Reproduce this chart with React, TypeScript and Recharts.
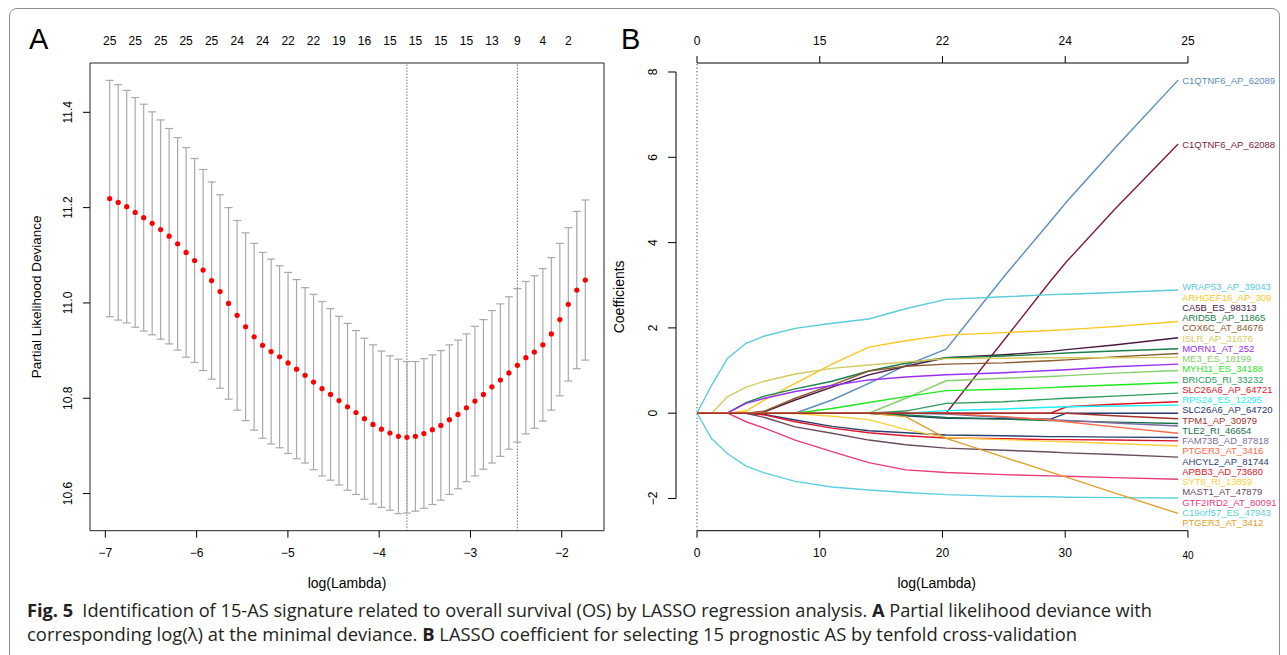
import React from 'react'
import { ComposedChart, Scatter, ErrorBar, Line, XAxis, YAxis, ReferenceLine, ReferenceArea } from 'recharts'

const FONT = '"Liberation Sans", Arial, Helvetica, sans-serif'

// ---------- panel A: cross-validation curve ----------
const logLambda = [
  -6.952, -6.859, -6.766, -6.673, -6.58, -6.487, -6.394, -6.301, -6.208, -6.115,
  -6.022, -5.929, -5.836, -5.743, -5.65, -5.556, -5.463, -5.37, -5.277, -5.184,
  -5.091, -4.998, -4.905, -4.812, -4.719, -4.626, -4.533, -4.44, -4.347, -4.254,
  -4.161, -4.068, -3.975, -3.882, -3.789, -3.696, -3.603, -3.51, -3.417, -3.324,
  -3.23, -3.137, -3.044, -2.951, -2.858, -2.765, -2.672, -2.579, -2.486, -2.393,
  -2.3, -2.207, -2.114, -2.021, -1.928, -1.835, -1.742,
]
const cvDeviance = [
  11.219, 11.211, 11.202, 11.19, 11.179, 11.167, 11.154, 11.14, 11.124, 11.106,
  11.089, 11.069, 11.047, 11.024, 10.999, 10.974, 10.95, 10.929, 10.911, 10.898,
  10.887, 10.874, 10.861, 10.848, 10.834, 10.82, 10.808, 10.795, 10.782, 10.77,
  10.757, 10.745, 10.735, 10.727, 10.72, 10.718, 10.72, 10.726, 10.734, 10.743,
  10.755, 10.766, 10.78, 10.794, 10.808, 10.824, 10.838, 10.853, 10.869, 10.885,
  10.897, 10.912, 10.935, 10.965, 10.997, 11.027, 11.048,
]
const cvSd = [
  0.248, 0.247, 0.244, 0.241, 0.238, 0.234, 0.23, 0.226, 0.223, 0.22,
  0.214, 0.211, 0.207, 0.203, 0.201, 0.199, 0.197, 0.196, 0.195, 0.194,
  0.191, 0.19, 0.188, 0.184, 0.184, 0.183, 0.18, 0.177, 0.175, 0.172,
  0.169, 0.167, 0.164, 0.162, 0.162, 0.159, 0.157, 0.157, 0.157, 0.157,
  0.157, 0.156, 0.155, 0.157, 0.157, 0.16, 0.16, 0.16, 0.161, 0.16,
  0.16, 0.16, 0.16, 0.16, 0.161, 0.165, 0.168,
]
const nonzeroCounts = [25, 25, 25, 25, 25, 24, 24, 22, 22, 19, 16, 15, 15, 15, 15, 13, 9, 4, 2]
const xTicksA = [-7, -6, -5, -4, -3, -2]
const yTicksA = [10.6, 10.8, 11.0, 11.2, 11.4]
const minIndex = 35
const oneSeIndex = 48

// ---------- panel B: coefficient paths ----------
const l1Norm = [0, 1.2, 2.5, 4, 5.5, 8, 11, 14, 17, 20.3, 25, 28.8, 30.1, 34, 39.2]
const dfTop = [0, 15, 22, 24, 25]
const xTicksB = [0, 10, 20, 30, 40]
const yTicksB = [-2, 0, 2, 4, 6, 8]

const c1qtnf6_62089 = [0, 0, 0, 0, 0, 0, 0.31, 0.7, 1.12, 1.5, 3.2, 4.5, 4.95, 6.2, 7.81]
const c1qtnf6_62088 = [0, 0, 0, 0, 0, 0, 0, 0, 0, 0, 1.71, 3.1, 3.55, 4.77, 6.31]
const wrap53 = [0, 0.66, 1.29, 1.64, 1.81, 1.99, 2.11, 2.21, 2.45, 2.67, 2.73, 2.78, 2.79, 2.83, 2.89]
const arhgef16 = [0, 0, 0, 0.05, 0.31, 0.7, 1.15, 1.55, 1.7, 1.83, 1.89, 1.94, 1.96, 2.03, 2.15]
const ca5b = [0, 0, 0, 0, 0.03, 0.31, 0.61, 0.9, 1.1, 1.3, 1.37, 1.45, 1.49, 1.6, 1.77]
const arid5b = [0, 0, 0.01, 0.25, 0.4, 0.57, 0.75, 0.99, 1.17, 1.3, 1.34, 1.39, 1.41, 1.46, 1.51]
const cox6c = [0, 0, 0, 0, 0.05, 0.35, 0.66, 0.99, 1.1, 1.15, 1.18, 1.23, 1.25, 1.32, 1.4]
const islr = [0, 0, 0.39, 0.61, 0.75, 0.92, 1.05, 1.13, 1.2, 1.28, 1.29, 1.3, 1.3, 1.3, 1.31]
const morn1 = [0, 0, 0.01, 0.23, 0.35, 0.51, 0.65, 0.78, 0.85, 0.9, 0.95, 1.0, 1.02, 1.09, 1.15]
const me3 = [0, 0, 0, 0, 0, 0, 0, 0, 0.35, 0.76, 0.82, 0.86, 0.88, 0.94, 1.0]
const myh11 = [0, 0, 0, 0, 0, 0, 0.11, 0.25, 0.39, 0.53, 0.56, 0.6, 0.62, 0.66, 0.72]
const bricd5 = [0, 0, 0, 0, 0, 0, 0, 0, 0.05, 0.23, 0.27, 0.33, 0.35, 0.4, 0.47]
const slc26a6_64721 = [0, 0, 0, 0, 0, 0, 0, 0, 0, 0, 0, 0, 0.15, 0.21, 0.27]
const rps24 = [0, 0, 0, 0, 0, 0, 0, 0, 0, 0.06, 0.1, 0.14, 0.15, 0.17, 0.19]
const slc26a6_64720 = [0, 0, 0, 0, 0, 0, 0, 0, -0.06, -0.12, -0.13, -0.14, 0, 0, 0]
const tpm1 = [0, 0, 0, 0, 0, 0, 0, 0, 0, 0, 0, 0, 0, -0.06, -0.13]
const tle2 = [0, 0, 0, 0, 0, 0, 0, 0, -0.04, -0.1, -0.14, -0.17, -0.18, -0.21, -0.24]
const fam73b = [0, 0, 0, 0, 0, 0, 0, 0, 0, -0.02, -0.1, -0.15, -0.17, -0.23, -0.3]
const ptger3_3416 = [0, 0, 0, 0, 0, 0, 0, 0, 0, 0, -0.08, -0.16, -0.2, -0.32, -0.47]
const ahcyl2 = [0, 0, 0, 0, -0.03, -0.16, -0.31, -0.41, -0.46, -0.51, -0.53, -0.55, -0.55, -0.56, -0.57]
const apbb3 = [0, 0, 0, 0, -0.04, -0.2, -0.35, -0.46, -0.53, -0.58, -0.6, -0.62, -0.62, -0.63, -0.65]
const syt8 = [0, 0, 0, 0, 0, -0.01, -0.07, -0.15, -0.38, -0.57, -0.62, -0.66, -0.67, -0.71, -0.77]
const mast1 = [0, 0, 0, 0, -0.1, -0.32, -0.47, -0.63, -0.74, -0.82, -0.87, -0.91, -0.93, -0.97, -1.03]
const gtf2ird2 = [0, 0, 0, -0.2, -0.35, -0.63, -0.9, -1.16, -1.33, -1.39, -1.44, -1.47, -1.48, -1.51, -1.55]
const c19orf57 = [0, -0.6, -0.95, -1.24, -1.4, -1.6, -1.73, -1.8, -1.86, -1.91, -1.95, -1.96, -1.97, -1.98, -1.99]
const ptger3_3412 = [0, 0, 0, 0, 0, 0, 0, 0, -0.08, -0.59, -1.03, -1.38, -1.5, -1.87, -2.35]

const seriesNames = [
  'C1QTNF6_AP_62089', 'C1QTNF6_AP_62088', 'WRAP53_AP_39043', 'ARHGEF16_AP_309', 'CA5B_ES_98313',
  'ARID5B_AP_11865', 'COX6C_AT_84676', 'ISLR_AP_31676', 'MORN1_AT_252', 'ME3_ES_18199',
  'MYH11_ES_34188', 'BRICD5_RI_33232', 'SLC26A6_AP_64721', 'RPS24_ES_12295', 'SLC26A6_AP_64720',
  'TPM1_AP_30979', 'TLE2_RI_46654', 'FAM73B_AD_87818', 'PTGER3_AT_3416', 'AHCYL2_AP_81744',
  'APBB3_AD_73680', 'SYT8_RI_13859', 'MAST1_AT_47879', 'GTF2IRD2_AT_80091', 'C19orf57_ES_47943',
  'PTGER3_AT_3412',
]
const seriesValues = [
  c1qtnf6_62089, c1qtnf6_62088, wrap53, arhgef16, ca5b,
  arid5b, cox6c, islr, morn1, me3,
  myh11, bricd5, slc26a6_64721, rps24, slc26a6_64720,
  tpm1, tle2, fam73b, ptger3_3416, ahcyl2,
  apbb3, syt8, mast1, gtf2ird2, c19orf57,
  ptger3_3412,
]
const seriesColors = [
  '#5b8dbe', '#7b1d3c', '#5ccbda', '#ffc61e', '#4a1942',
  '#1b8049', '#8c5b2e', '#d6ca5e', '#9b30f5', '#86cf6b',
  '#1fe81f', '#2e9b5c', '#e3121c', '#1ef0fa', '#26386e',
  '#a3302a', '#17744b', '#7d6ca0', '#ff6a4a', '#2c4275',
  '#e0142a', '#ffd040', '#6a4c62', '#e93c7e', '#5cd0e0',
  '#dfa22e',
]

// ---------- layout ----------
const xDomA: [number, number] = [-7.168, -1.537]
const yDomA: [number, number] = [10.522, 11.5035]
const xDomB: [number, number] = [-1.711, 40.77]
const yDomB: [number, number] = [-2.755, 8.211]
const PLOT_H = 467.7
const LABEL_GAP_PX = 10.25

const rowsA = logLambda.map((x, i) => ({ logLambda: x, dev: cvDeviance[i], sd: cvSd[i] }))
const topTicksA = logLambda.filter((_, i) => i % 3 === 0)

const rowsB = l1Norm.map((l1, i) => {
  const r: Record<string, number> = { l1 }
  seriesNames.forEach((n, k) => { r[n] = seriesValues[k][i] })
  return r
})

// push end labels apart (least-squares clusters), values in data units
function spreadLabels(targets: number[], gap: number): number[] {
  const order = targets.map((_, i) => i).sort((a, b) => targets[b] - targets[a])
  const clusters: { idx: number[]; top: number }[] = []
  for (const i of order) {
    clusters.push({ idx: [i], top: targets[i] })
    while (clusters.length > 1) {
      const b = clusters[clusters.length - 1]
      const a = clusters[clusters.length - 2]
      const aBottom = a.top - (a.idx.length - 1) * gap
      if (aBottom - b.top >= gap) break
      const idx = a.idx.concat(b.idx)
      const top = idx.reduce((s, j, k) => s + targets[j] + k * gap, 0) / idx.length
      clusters.splice(-2, 2, { idx, top })
    }
  }
  const out: number[] = new Array(targets.length)
  clusters.forEach(c => c.idx.forEach((j, k) => { out[j] = c.top - k * gap }))
  return out
}

const endValues = seriesValues.map(v => v[v.length - 1])
const labelPos = spreadLabels(endValues, LABEL_GAP_PX / (PLOT_H / (yDomB[1] - yDomB[0])))
const labelRows = seriesNames.map((name, k) => ({
  l1: l1Norm[l1Norm.length - 1], lab: labelPos[k], name, color: seriesColors[k],
}))
const drawOrder = seriesNames.map((_, k) => k).filter(k => seriesNames[k] !== 'TPM1_AP_30979')
  .concat(seriesNames.indexOf('TPM1_AP_30979'))

const txt = { fontFamily: FONT, fill: '#000' }
const minus = (v: number) => String(v).replace('-', '\u2212')
const fmtB = (v: number) => String(v)

const xTick = (dy: number, fmt: (v: number, i: number) => string) => (p: any) => {
  const v = p.payload.value
  const small = fmt === fmtB && v === 40
  return (
    <text x={p.x} y={p.y + dy + (small ? 2 : 0)} textAnchor="middle" dominantBaseline="central"
      style={{ ...txt, fontSize: small ? 10 : 12 }}>{fmt(v, p.index)}</text>
  )
}
const yTick = (dx: number, fmt: (v: number) => string) => (p: any) => {
  const cx = p.x - dx
  return (
    <text x={cx} y={p.y} transform={`rotate(-90 ${cx} ${p.y})`} textAnchor="middle"
      dominantBaseline="central" style={{ ...txt, fontSize: 12 }}>{fmt(p.payload.value)}</text>
  )
}

const bottomTitle = (text: string, dy: number) => (p: any) => {
  const vb = p.viewBox
  return (
    <text x={vb.x + vb.width / 2} y={vb.y + dy} textAnchor="middle" dominantBaseline="central"
      style={{ ...txt, fontSize: 14 }}>{text}</text>
  )
}
const leftTitle = (text: string, dx: number, size: number) => (p: any) => {
  const vb = p.viewBox
  const cx = vb.x + dx
  const cy = vb.y + vb.height / 2
  return (
    <text x={cx} y={cy} transform={`rotate(-90 ${cx} ${cy})`} textAnchor="middle" dominantBaseline="central"
      style={{ ...txt, fontSize: size }}>{text}</text>
  )
}

const redDot = (p: any) => <circle cx={p.cx} cy={p.cy} r={2.6} fill="#ff0000" />
const endLabel = (p: any) => (
  <text x={p.cx + 4} y={p.cy} dominantBaseline="central" fill={p.payload.color}
    style={{ fontFamily: FONT, fontSize: 9.5 }}>{p.payload.name}</text>
)

function PanelA() {
  return (
    <ComposedChart width={610} height={590} data={rowsA} margin={{ top: 25, right: 14, bottom: 37.3, left: 32 }}>
      <XAxis xAxisId="b" type="number" dataKey="logLambda" domain={xDomA} allowDataOverflow ticks={xTicksA}
        interval={0} axisLine={false} tickLine={{ stroke: '#000' }} tickSize={7} tickMargin={3} height={30}
        tick={xTick(12.3, v => minus(v))} label={bottomTitle('log(Lambda)', 52.3)} />
      <XAxis xAxisId="t" orientation="top" type="number" dataKey="logLambda" domain={xDomA} allowDataOverflow
        ticks={topTicksA} interval={0} axisLine={false} tickLine={false} tickSize={0} tickMargin={0} height={30}
        tick={xTick(-22, (_, i) => String(nonzeroCounts[i]))} />
      <YAxis type="number" domain={yDomA} allowDataOverflow ticks={yTicksA} interval={0} axisLine={false}
        tickLine={{ stroke: '#000' }} tickSize={7} tickMargin={2} width={50}
        tick={yTick(12.5, v => v.toFixed(1))} label={leftTitle('Partial Likelihood Deviance', -3, 13.5)} />
      <ReferenceArea xAxisId="b" x1={xDomA[0]} x2={xDomA[1]} y1={yDomA[0]} y2={yDomA[1]} fill="none"
        fillOpacity={0} stroke="#222" strokeWidth={1} ifOverflow="visible" />
      <ReferenceLine xAxisId="b" x={logLambda[minIndex]} stroke="#333" strokeDasharray="1 2" />
      <ReferenceLine xAxisId="b" x={logLambda[oneSeIndex]} stroke="#333" strokeDasharray="1 2" />
      <Scatter xAxisId="b" dataKey="dev" isAnimationActive={false} shape={redDot}>
        <ErrorBar dataKey="sd" direction="y" width={4} stroke="#a9a9a9" strokeWidth={1.2} />
      </Scatter>
    </ComposedChart>
  )
}

function PanelB() {
  return (
    <ComposedChart width={679} height={590} data={rowsB} margin={{ top: 25, right: 81.6, bottom: 37.3, left: 36 }}>
      <XAxis xAxisId="b" type="number" dataKey="l1" domain={xDomB} ticks={xTicksB}
        interval={0} axisLine={false} tickLine={{ stroke: '#000' }} tickSize={7} tickMargin={3} height={30}
        tick={xTick(12.3, fmtB)} label={bottomTitle('log(Lambda)', 52.3)} />
      <XAxis xAxisId="t" orientation="top" type="number" dataKey="l1" domain={xDomB}
        ticks={xTicksB} interval={0} axisLine={false} tickLine={{ stroke: '#000' }} tickSize={7} tickMargin={2}
        height={30} tick={xTick(-13, (_, i) => String(dfTop[i]))} />
      <YAxis type="number" domain={yDomB} ticks={yTicksB} interval={0} axisLine={false}
        tickLine={{ stroke: '#000' }} tickSize={8} tickMargin={2} width={40}
        tick={yTick(13, minus)} label={leftTitle('Coefficients', -17, 14)} />
      <ReferenceLine xAxisId="b" segment={[{ x: xTicksB[0], y: yDomB[0] }, { x: xTicksB[4], y: yDomB[0] }]}
        stroke="#000" ifOverflow="visible" />
      <ReferenceLine xAxisId="b" segment={[{ x: xTicksB[0], y: yDomB[1] }, { x: xTicksB[4], y: yDomB[1] }]}
        stroke="#000" ifOverflow="visible" />
      <ReferenceLine xAxisId="b" segment={[{ x: xDomB[0], y: yTicksB[0] }, { x: xDomB[0], y: yTicksB[5] }]}
        stroke="#000" ifOverflow="visible" />
      <ReferenceLine xAxisId="b" x={0} stroke="#222" strokeDasharray="1 2.5" />
      {drawOrder.map(k => (
        <Line key={seriesNames[k]} xAxisId="b" dataKey={seriesNames[k]} type="linear" stroke={seriesColors[k]}
          strokeWidth={1.4} dot={false} activeDot={false} isAnimationActive={false} />
      ))}
      <Scatter xAxisId="b" data={labelRows} dataKey="lab" isAnimationActive={false} shape={endLabel} />
    </ComposedChart>
  )
}

export default function App() {
  return (
    <div style={{ position: 'fixed', left: 0, top: 0, width: 1287, height: 655, overflow: 'hidden', background: '#fff' }}>
      <div style={{ position: 'absolute', left: 9, top: 8, width: 1271, height: 700, border: '1px solid #8f8f8f',
        borderRadius: 8, boxSizing: 'border-box' }} />
      <div style={{ position: 'absolute', left: 8, top: 8 }}><PanelA /></div>
      <div style={{ position: 'absolute', left: 600, top: 8 }}><PanelB /></div>
      <svg width={1287} height={655} style={{ position: 'absolute', left: 0, top: 0, pointerEvents: 'none' }}>
        <text x={29} y={49} style={{ fontFamily: FONT, fontSize: 29 }}>A</text>
        <text x={621} y={49} style={{ fontFamily: FONT, fontSize: 29 }}>B</text>
        <text x={27} y={617} textLength={1125} lengthAdjust="spacingAndGlyphs" fill="#231f20"
          style={{ fontFamily: '"Open Sans", "Noto Sans", sans-serif', fontSize: 18 }}>
          <tspan fontWeight={700}>Fig. 5</tspan>
          {'\u2002Identification of 15-AS signature related to overall survival (OS) by LASSO regression analysis. '}
          <tspan fontWeight={700}>A</tspan>
          {' Partial likelihood deviance with'}
        </text>
        <text x={27} y={641} textLength={1050} lengthAdjust="spacingAndGlyphs" fill="#231f20"
          style={{ fontFamily: '"Open Sans", "Noto Sans", sans-serif', fontSize: 18 }}>
          {'corresponding log(\u03bb) at the minimal deviance. '}
          <tspan fontWeight={700}>B</tspan>
          {' LASSO coefficient for selecting 15 prognostic AS by tenfold cross-validation'}
        </text>
      </svg>
    </div>
  )
}
